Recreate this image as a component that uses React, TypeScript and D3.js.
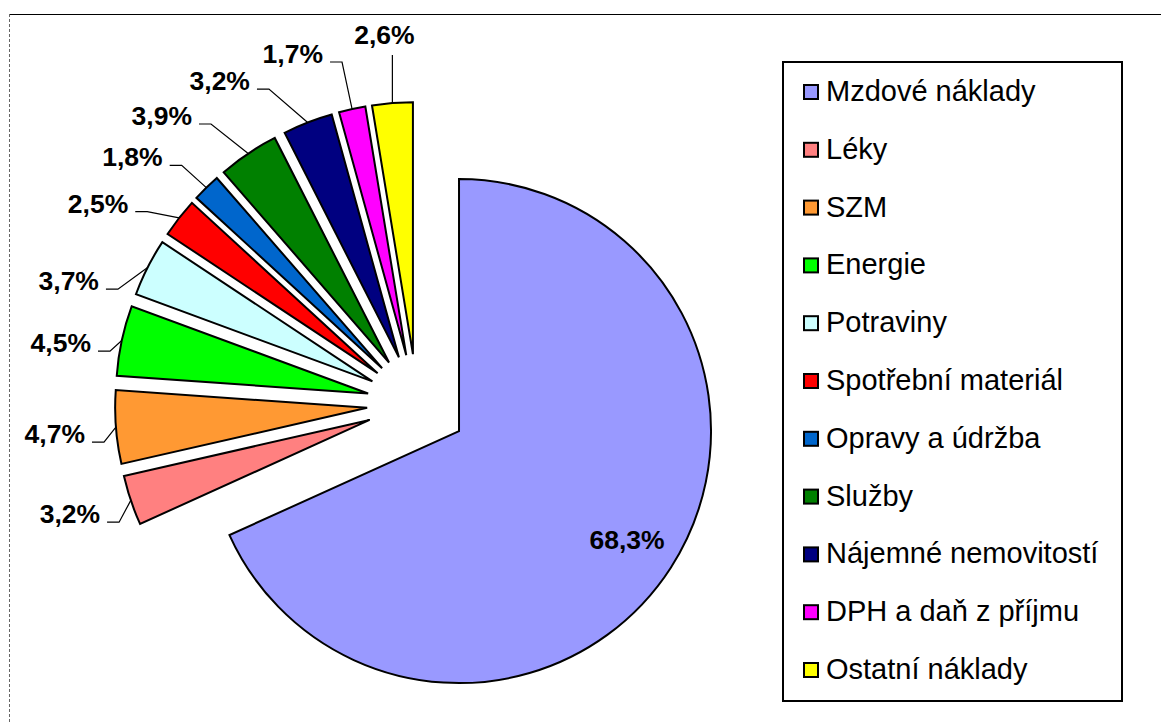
import React from 'react';
import * as d3 from 'd3';

// ---- data ----
const categories = [
  'Mzdové náklady',
  'Léky',
  'SZM',
  'Energie',
  'Potraviny',
  'Spotřební materiál',
  'Opravy a údržba',
  'Služby',
  'Nájemné nemovitostí',
  'DPH a daň z příjmu',
  'Ostatní náklady',
];
const shares = [68.3, 3.2, 4.7, 4.5, 3.7, 2.5, 1.8, 3.9, 3.2, 1.7, 2.6];
const valueLabels = ['68,3%', '3,2%', '4,7%', '4,5%', '3,7%', '2,5%', '1,8%', '3,9%', '3,2%', '1,7%', '2,6%'];
const colors = ['#9999FF', '#FF8080', '#FF9933', '#00FF00', '#CCFFFF', '#FF0000', '#0066CC', '#008000', '#000080', '#FF00FF', '#FFFF00'];

// ---- layout (manually placed data labels, as in the original) ----
const W = 1161;
const H = 722;
const CX = 417;
const CY = 404;
const R = 252;
const EXPLODE = 50;
// label rotation relative to slice bisector (deg) and label distance from centre
const LABEL_SHIFT_DEG = [0, -2.0, -2.3, -3.1, -7.2, -4.5, -2.7, -4.9, -6.8, -3.0, -0.5];
const LABEL_RADIUS = [200, 338.6, 334.3, 330.1, 337.8, 346.4, 348.1, 358.4, 355.6, 353.7, 361.5];

const FONT = '"Liberation Sans", Arial, Helvetica, sans-serif';

const dir = (a: number): [number, number] => [Math.sin(a), -Math.cos(a)];

export default function App() {
  const pie = d3.pie<number>().sort(null).value((d) => d);
  const arcs = pie(shares);
  const arcGen = d3.arc<d3.PieArcDatum<number>>().innerRadius(0).outerRadius(R);

  const legendX = 783;
  const legendY = 62;
  const legendW = 339;
  const legendH = 639;
  const rowStep = 57.8;
  const firstBaseline = 101;

  return (
    <svg
      width={W}
      height={H}
      style={{ position: 'absolute', left: 0, top: 0, background: '#fff' }}
      fontFamily={FONT}
    >
      <rect x={0} y={0} width={W} height={H} fill="#fff" />
      {/* chart area frame */}
      <line x1={9} y1={14.5} x2={W} y2={14.5} stroke="#000" strokeWidth={1} />
      <line x1={9.5} y1={14} x2={9.5} y2={H} stroke="#666" strokeWidth={1} strokeDasharray="3,2" />

      {/* slices */}
      {arcs.map((a, i) => {
        const mid = (a.startAngle + a.endAngle) / 2;
        const [dx, dy] = dir(mid);
        const tx = CX + EXPLODE * dx;
        const ty = CY + EXPLODE * dy;
        return (
          <path
            key={'s' + i}
            d={arcGen(a) || ''}
            transform={`translate(${tx},${ty})`}
            fill={colors[i]}
            stroke="#000"
            strokeWidth={2}
            strokeLinejoin="miter"
          />
        );
      })}

      {/* labels and leader lines */}
      {arcs.map((a, i) => {
        const mid = (a.startAngle + a.endAngle) / 2;
        const la = mid + (LABEL_SHIFT_DEG[i] * Math.PI) / 180;
        const [lx, ly] = dir(la);
        const px = CX + LABEL_RADIUS[i] * lx;
        const py = CY + LABEL_RADIUS[i] * ly;
        if (i === 0) {
          return (
            <text
              key={'l' + i}
              x={px + EXPLODE * Math.sin(mid)}
              y={py + EXPLODE * -Math.cos(mid) + 9.5}
              textAnchor="middle"
              fontWeight="bold"
              fontSize={26.5}
              fill="#000"
            >
              {valueLabels[i]}
            </text>
          );
        }
        const [ax0, ay0] = dir(mid);
        const ax = CX + (EXPLODE + R) * ax0;
        const ay = CY + (EXPLODE + R) * ay0;
        const above = py < ay && Math.abs(px - ax) < 15;
        if (above) {
          return (
            <g key={'l' + i}>
              <text x={px} y={py} textAnchor="middle" fontWeight="bold" fontSize={26.5} fill="#000">
                {valueLabels[i]}
              </text>
              <polyline points={`${ax},${py + 11} ${ax},${ay}`} fill="none" stroke="#000" strokeWidth={1.2} />
            </g>
          );
        }
        const hy = py - 1;
        return (
          <g key={'l' + i}>
            <text x={px} y={py} textAnchor="end" fontWeight="bold" fontSize={26.5} fill="#000">
              {valueLabels[i]}
            </text>
            <polyline
              points={`${px + 7},${hy} ${px + 19},${hy} ${ax},${ay}`}
              fill="none"
              stroke="#000"
              strokeWidth={1.2}
            />
          </g>
        );
      })}

      {/* legend */}
      <rect x={legendX} y={legendY} width={legendW} height={legendH} fill="#fff" stroke="#000" strokeWidth={2} />
      {categories.map((c, i) => {
        const by = firstBaseline + rowStep * i;
        return (
          <g key={'g' + i}>
            <rect x={804} y={by - 16} width={14} height={14} fill={colors[i]} stroke="#000" strokeWidth={2} />
            <text x={826} y={by} fontSize={29} fill="#000">
              {c}
            </text>
          </g>
        );
      })}
    </svg>
  );
}
